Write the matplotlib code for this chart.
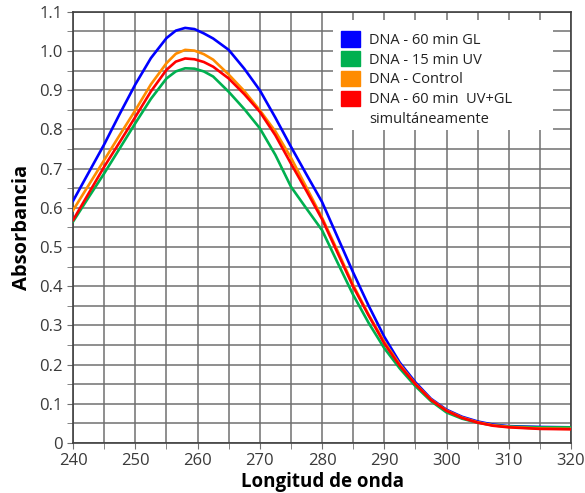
import matplotlib
matplotlib.use("Agg")
import matplotlib.pyplot as plt
from matplotlib.patches import Patch, Rectangle
from matplotlib.ticker import MultipleLocator, FuncFormatter

# wavelengths (nm) at which the curves were read
wl = [240, 242.5, 245, 247.5, 250, 252.5, 255, 256.5, 258, 259.5, 261, 262.5, 265,
      267.5, 270, 272.5, 275, 277.5, 280, 282.5, 285, 287.5, 290, 292.5, 295,
      297.5, 300, 302.5, 305, 307.5, 310, 315, 320]

abs_gl = [0.618, 0.69, 0.762, 0.84, 0.915, 0.982, 1.033, 1.052, 1.059, 1.056, 1.045, 1.032, 1.003,
          0.955, 0.90, 0.83, 0.756, 0.685, 0.615, 0.525, 0.435, 0.35, 0.271, 0.205, 0.155,
          0.113, 0.085, 0.067, 0.055, 0.047, 0.043, 0.041, 0.040]
abs_uv = [0.565, 0.627, 0.688, 0.752, 0.816, 0.878, 0.93, 0.948, 0.956, 0.955, 0.948, 0.935, 0.896,
          0.852, 0.803, 0.735, 0.654, 0.598, 0.543, 0.46, 0.378, 0.306, 0.242, 0.19, 0.145,
          0.107, 0.078, 0.062, 0.052, 0.045, 0.042, 0.040, 0.040]
abs_control = [0.594, 0.658, 0.722, 0.786, 0.849, 0.915, 0.969, 0.993, 1.003, 1.001, 0.992, 0.978, 0.94,
               0.898, 0.849, 0.795, 0.728, 0.652, 0.575, 0.49, 0.403, 0.327, 0.258, 0.2, 0.151,
               0.111, 0.083, 0.065, 0.053, 0.045, 0.041, 0.037, 0.036]
abs_uvgl = [0.569, 0.637, 0.705, 0.768, 0.832, 0.897, 0.952, 0.973, 0.981, 0.979, 0.972, 0.96, 0.93,
            0.89, 0.845, 0.785, 0.713, 0.643, 0.571, 0.485, 0.399, 0.325, 0.254, 0.197, 0.15,
            0.11, 0.082, 0.064, 0.052, 0.044, 0.040, 0.036, 0.035]

labels = ["DNA - 60 min GL", "DNA - 15 min UV", "DNA - Control",
          "DNA - 60 min  UV+GL", "simultáneamente"]
colors = ["#0000ff", "#00b050", "#ff8c00", "#ff0000"]

plt.rcParams['font.family'] = ['Open Sans', 'DejaVu Sans']

fig = plt.figure(figsize=(5.85, 4.93), dpi=100)
ax = fig.add_axes([0.125, 0.1014, 0.851, 0.8746])

series = [abs_gl, abs_uv, abs_control, abs_uvgl]
for ys, c in zip(series, colors):
    ax.plot(wl, ys, color=c, linewidth=1.9, zorder=3)

ax.set_xlim(240, 320)
ax.set_ylim(0, 1.1)
ax.xaxis.set_major_locator(MultipleLocator(10))
ax.xaxis.set_minor_locator(MultipleLocator(5))
ax.yaxis.set_major_locator(MultipleLocator(0.1))
ax.yaxis.set_minor_locator(MultipleLocator(0.05))
ax.yaxis.set_major_formatter(FuncFormatter(lambda v, p: "0" if abs(v) < 1e-9 else f"{v:.1f}"))

ax.grid(True, which='both', color='#707070', linewidth=1.1, zorder=0)
ax.tick_params(which='both', direction='out', length=4, color='#707070',
               labelsize=12, labelcolor='#3a3a3a')
for s in ax.spines.values():
    s.set_color('#404040')
    s.set_linewidth(1.2)

ax.set_xlabel("Longitud de onda", fontsize=13.5, fontweight='bold', labelpad=2)
ax.set_ylabel("Absorbancia", fontsize=14.5, fontweight='bold', labelpad=5)

# white box behind the legend, hiding the grid
ax.add_patch(Rectangle((0.522, 0.726), 0.442, 0.255, transform=ax.transAxes,
                       facecolor='white', edgecolor='none', zorder=4))

handles = [Patch(facecolor=c, edgecolor=c) for c in colors]
handles.append(Patch(facecolor='none', edgecolor='none'))
leg = ax.legend(handles, labels, loc='upper left', bbox_to_anchor=(0.539, 0.955),
                fontsize=10.5, frameon=False,
                handlelength=1.3, handleheight=1.25, handletextpad=0.6,
                labelspacing=0.22, borderpad=0, borderaxespad=0)
for t in leg.get_texts():
    t.set_color('#222222')
leg.set_zorder(5)

fig.savefig("out.png", dpi=100)
